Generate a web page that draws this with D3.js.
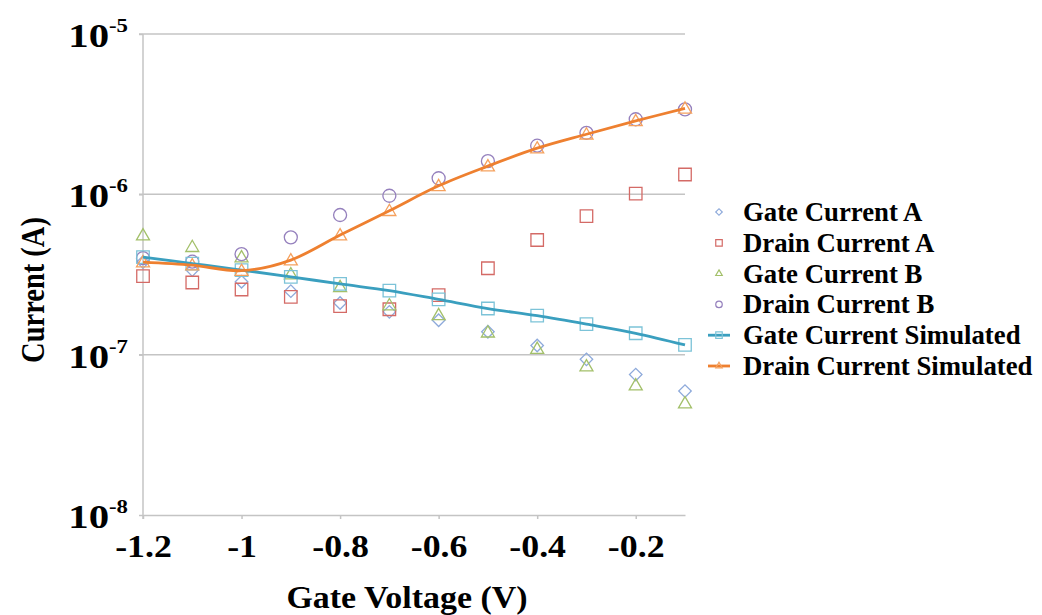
<!DOCTYPE html>
<html lang="en"><head>
<meta charset="utf-8">
<title>Gate and Drain Current</title>
<script src="https://cdn.jsdelivr.net/npm/d3@7"></script>
<style>
  body { margin: 0; background: #fff; }
  text { font-family: "Liberation Serif", "Times New Roman", serif; font-weight: bold; fill: #000; }
</style>
</head>
<body>
<svg id="chart" width="1042" height="615"></svg>
<script>
// gate voltage (V)
const voltage = [-1.2, -1.1, -1.0, -0.9, -0.8, -0.7, -0.6, -0.5, -0.4, -0.3, -0.2, -0.1]

// currents (A)
const gateA  = [3.78e-7, 3.37e-7, 2.85e-7, 2.49e-7, 2.10e-7, 1.85e-7, 1.64e-7, 1.39e-7, 1.14e-7, 9.35e-8, 7.51e-8, 5.93e-8]
const drainA = [3.09e-7, 2.82e-7, 2.55e-7, 2.29e-7, 2.01e-7, 1.92e-7, 2.35e-7, 3.46e-7, 5.19e-7, 7.32e-7, 1.01e-6, 1.33e-6]
const gateB  = [5.57e-7, 4.71e-7, 4.06e-7, 3.18e-7, 2.65e-7, 2.04e-7, 1.77e-7, 1.38e-7, 1.09e-7, 8.49e-8, 6.46e-8, 4.99e-8]
const drainB = [4.00e-7, 3.80e-7, 4.24e-7, 5.39e-7, 7.43e-7, 9.80e-7, 1.26e-6, 1.61e-6, 2.01e-6, 2.42e-6, 2.94e-6, 3.39e-6]
const gateSim  = [4.06e-7, 3.70e-7, 3.37e-7, 3.06e-7, 2.76e-7, 2.51e-7, 2.21e-7, 1.94e-7, 1.75e-7, 1.55e-7, 1.36e-7, 1.15e-7]
const drainSim = [3.78e-7, 3.62e-7, 3.34e-7, 3.89e-7, 5.57e-7, 7.90e-7, 1.13e-6, 1.50e-6, 1.94e-6, 2.37e-6, 2.87e-6, 3.44e-6]

const xTicks = [-1.2, -1, -0.8, -0.6, -0.4, -0.2]
const yTicks = [1e-8, 1e-7, 1e-6, 1e-5]

const series = [
  { name: "Gate Current A",  values: gateA,  shape: "diamond",  color: "#8eaadb" },
  { name: "Drain Current A", values: drainA, shape: "square",   color: "#d46a66" },
  { name: "Gate Current B",  values: gateB,  shape: "triangle", color: "#a3c06a" },
  { name: "Drain Current B", values: drainB, shape: "circle",   color: "#9580bd" },
  { name: "Gate Current Simulated",  values: gateSim,  shape: "square",   color: "#7cc3d8", line: "#3a9fbf" },
  { name: "Drain Current Simulated", values: drainSim, shape: "triangle", color: "#f5a15e", line: "#ee8030" }
]

const svg = d3.select("#chart")
const x = d3.scaleLinear().domain([-1.2, -0.1]).range([143, 685])
const y = d3.scaleLog().domain([1e-8, 1e-5]).range([515, 34])

// grid
svg.append("g")
  .selectAll("line")
  .data(yTicks.slice(1))
  .join("line")
  .attr("x1", 139).attr("x2", 685)
  .attr("y1", d => y(d)).attr("y2", d => y(d))
  .attr("stroke", "#c4c4c4").attr("stroke-width", 1.5)

// x axis
svg.append("g")
  .attr("transform", `translate(0,${y(1e-8)})`)
  .call(d3.axisBottom(x).tickValues(xTicks).tickFormat(d3.format("")).tickSize(4).tickSizeOuter(0))
  .call(g => g.select(".domain").attr("stroke", "#c4c4c4").attr("stroke-width", 1.5))
  .call(g => g.selectAll(".tick line").attr("stroke", "#c4c4c4").attr("stroke-width", 1.5))
  .call(g => g.selectAll(".tick text").attr("y", 0).attr("dy", 0)
    .attr("transform", "translate(0,42) scale(1.12,1)")
    .style("font-size", "32px").style("font-family", "Liberation Serif").style("font-weight", "bold").attr("fill", "#000")
    .text(d => d3.format("")(d).replace("−", "-")))

// y axis
svg.append("g")
  .attr("transform", `translate(${x(-1.2)},0)`)
  .call(d3.axisLeft(y).tickValues(yTicks).tickFormat("").tickSize(4).tickSizeOuter(0))
  .call(g => g.select(".domain").attr("stroke", "#c4c4c4").attr("stroke-width", 1.5).attr("d", `M0,${y(1e-5)}V${y(1e-8) + 4}`))
  .call(g => g.selectAll(".tick line").attr("stroke", "#c4c4c4").attr("stroke-width", 1.5))

const yl = svg.append("g").selectAll("text")
  .data(yTicks)
  .join("text")
  .attr("transform", d => `translate(128,${y(d) + 13}) scale(1.2,1)`)
  .attr("text-anchor", "end")
  .style("font-size", "34px")
yl.append("tspan").text("10")
yl.append("tspan").attr("dy", -15).style("font-size", "19px").text(d => "-" + Math.round(-Math.log10(d)))

// titles
svg.append("text")
  .attr("transform", "translate(407,608) scale(1.06,1)")
  .attr("text-anchor", "middle")
  .style("font-size", "32px")
  .text("Gate Voltage (V)")

svg.append("text")
  .attr("transform", "translate(44,290) rotate(-90) scale(0.95,1.12)")
  .attr("text-anchor", "middle")
  .style("font-size", "30px")
  .text("Current (A)")

function markerPath(shape, s) {
  if (shape === "diamond") return d3.symbol(d3.symbolSquare, s * s / 2)()
  if (shape === "square") return d3.symbol(d3.symbolSquare, s * s)()
  if (shape === "triangle") return d3.symbol(d3.symbolTriangle, s * s * 0.433)()
  return d3.symbol(d3.symbolCircle, Math.PI * s * s / 4)()
}

const line = d3.line()
  .x((d, i) => x(voltage[i]))
  .y(d => y(d))
  .curve(d3.curveCatmullRom.alpha(0))

const plot = svg.append("g")

// markers
series.forEach(s => {
  const size = s.shape === "circle" ? 13 : s.shape === "triangle" ? 13 : 12.5
  plot.append("g")
    .selectAll("path")
    .data(s.values)
    .join("path")
    .attr("d", markerPath(s.shape, size))
    .attr("transform", (d, i) => `translate(${x(voltage[i])},${y(d) + (s.shape === "triangle" ? 1 : 0)})` + (s.shape === "diamond" ? " rotate(45)" : ""))
    .attr("fill", "none")
    .attr("stroke", s.color)
    .attr("stroke-width", 1.3)
})

// simulated curves on top
series.filter(s => s.line).forEach(s => {
  plot.append("path")
    .datum(s.values)
    .attr("d", line)
    .attr("fill", "none")
    .attr("stroke", s.line)
    .attr("stroke-width", 2.8)
})

// legend
const leg = svg.append("g")
  .selectAll("g")
  .data(series)
  .join("g")
  .attr("transform", (d, i) => `translate(719,${212 + i * 30.8})`)

leg.filter(d => d.line).append("line")
  .attr("x1", -11).attr("x2", 11)
  .attr("stroke", d => d.line).attr("stroke-width", 2.8)

leg.append("path")
  .attr("d", d => markerPath(d.shape, 6.5))
  .attr("transform", d => d.shape === "diamond" ? "rotate(45)" : "")
  .attr("fill", "none")
  .attr("stroke", d => d.color)
  .attr("stroke-width", 1.2)

leg.append("text")
  .attr("transform", "translate(24,9) scale(1.03,1.03)")
  .style("font-size", "26px")
  .text(d => d.name)
</script>
</body>
</html>
